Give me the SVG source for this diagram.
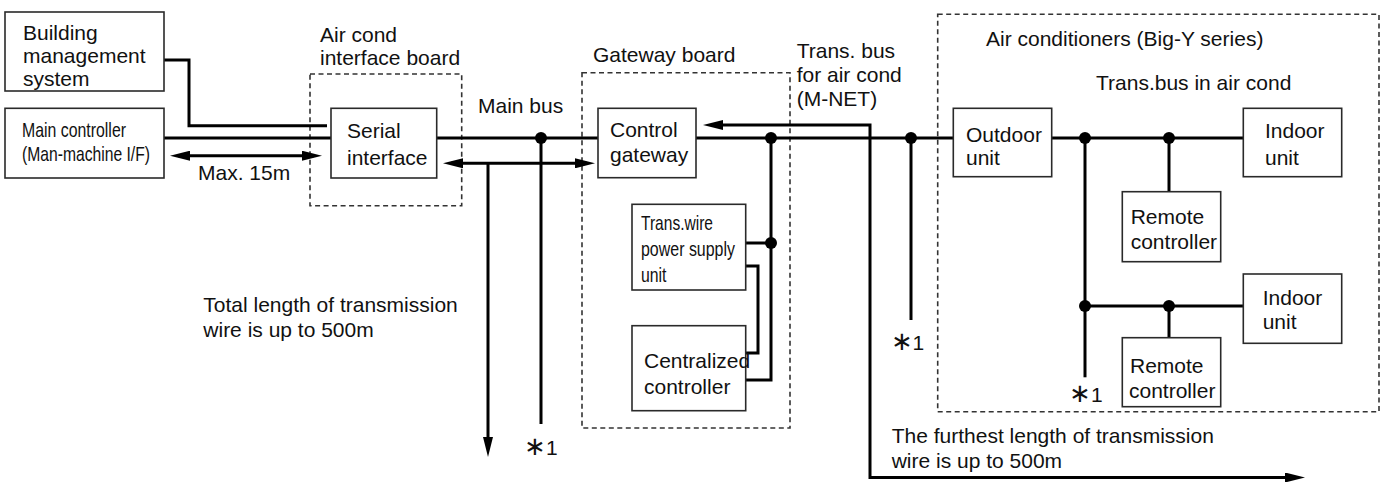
<svg xmlns="http://www.w3.org/2000/svg" width="1388" height="482" viewBox="0 0 1388 482">
<style>
text{font-family:"Liberation Sans",Arial,sans-serif;fill:#111;font-size:21px}
.box{fill:#fff;stroke:#2a2a2a;stroke-width:1.6}
.dash{fill:none;stroke:#333;stroke-width:1.6;stroke-dasharray:5 3.5}
.w{fill:none;stroke:#000;stroke-width:3}
.dot{fill:#000}
.ast{font-size:26px}
</style>
<defs>
<marker id="ah" viewBox="0 0 20 10" refX="12" refY="5" markerWidth="20" markerHeight="10" markerUnits="userSpaceOnUse" orient="auto-start-reverse">
<path d="M0,0 L20,5 L0,10 z" fill="#000"/>
</marker>
</defs>
<rect width="1388" height="482" fill="#fff"/>

<g id="group-aircond-if">
<rect class="dash" x="310" y="74" width="151.7" height="131.7"/>
<text x="320" y="42">Air cond</text>
<text x="320" y="65">interface board</text>
</g>
<g id="group-gateway">
<rect class="dash" x="582" y="72.7" width="208" height="355.3"/>
<text x="593" y="62">Gateway board</text>
</g>
<g id="group-aircon">
<rect class="dash" x="937.7" y="14.3" width="441.3" height="397.4"/>
<text x="986" y="46">Air conditioners (Big-Y series)</text>
<text x="1096" y="89.5">Trans.bus in air cond</text>
</g>

<g id="connectors">
<path class="w" d="M164,60 H189 V125.7 H327"/>
<path class="w" d="M164,138 H331"/>
<path class="w" d="M178,155.7 H314" marker-start="url(#ah)" marker-end="url(#ah)"/>
<path class="w" d="M436.7,138 H598"/>
<path class="w" d="M541,138 V424"/>
<path class="w" d="M451,163.3 H587" marker-start="url(#ah)" marker-end="url(#ah)"/>
<path class="w" d="M488,163.3 V449" marker-end="url(#ah)"/>
<path class="w" d="M696,138 H953.3"/>
<path class="w" d="M771,138 V380 H746"/>
<path class="w" d="M746,243 H771"/>
<path class="w" d="M746,266 H758 V353 H746"/>
<path class="w" d="M911,138 V320"/>
<path class="w" d="M711,125 H870 V477.5 H1297" marker-start="url(#ah)" marker-end="url(#ah)"/>
<path class="w" d="M1051.7,138 H1243.3"/>
<path class="w" d="M1085,138 V377.3"/>
<path class="w" d="M1169,138 V191.7"/>
<path class="w" d="M1085,306 H1243.3"/>
<path class="w" d="M1169,306 V337.7"/>
<circle class="dot" cx="541" cy="138" r="6"/>
<circle class="dot" cx="771" cy="138" r="6"/>
<circle class="dot" cx="771" cy="243" r="6"/>
<circle class="dot" cx="911" cy="138" r="6"/>
<circle class="dot" cx="1085" cy="138" r="6"/>
<circle class="dot" cx="1169" cy="138" r="6"/>
<circle class="dot" cx="1085" cy="306" r="6"/>
<circle class="dot" cx="1169" cy="306" r="6"/>
</g>

<g id="bms">
<rect class="box" x="5" y="12" width="159" height="79"/>
<text x="23" y="39.5">Building</text>
<text x="23" y="63">management</text>
<text x="23" y="86">system</text>
</g>
<g id="main-controller">
<rect class="box" x="5" y="108.3" width="159" height="69.7"/>
<text x="22" y="137" font-size="18.5" textLength="104" lengthAdjust="spacingAndGlyphs">Main controller</text>
<text x="22" y="161" font-size="18.5" textLength="128" lengthAdjust="spacingAndGlyphs">(Man-machine I/F)</text>
</g>
<g id="serial-interface">
<rect class="box" x="331" y="108.3" width="105.7" height="69.7"/>
<text x="347" y="138.3">Serial</text>
<text x="347" y="165">interface</text>
</g>
<g id="control-gateway">
<rect class="box" x="598" y="108.3" width="98" height="69.4"/>
<text x="610" y="137">Control</text>
<text x="610" y="162">gateway</text>
</g>
<g id="trans-wire-psu">
<rect class="box" x="632" y="204.3" width="113.7" height="85.7"/>
<text x="641" y="230" font-size="17" textLength="72" lengthAdjust="spacingAndGlyphs">Trans.wire</text>
<text x="641" y="255.5" font-size="17" textLength="94" lengthAdjust="spacingAndGlyphs">power supply</text>
<text x="641" y="281.5" font-size="17" textLength="25.5" lengthAdjust="spacingAndGlyphs">unit</text>
</g>
<g id="centralized-controller">
<rect class="box" x="632" y="325.7" width="113.7" height="85"/>
<text x="644" y="368" font-size="19">Centralized</text>
<text x="644" y="394" font-size="19">controller</text>
</g>
<g id="outdoor-unit">
<rect class="box" x="953.3" y="108.3" width="98.4" height="68.4"/>
<text x="966" y="141.7" font-size="19.5">Outdoor</text>
<text x="966" y="165" font-size="19.5">unit</text>
</g>
<g id="indoor-unit-1">
<rect class="box" x="1243.3" y="108.3" width="98.4" height="68.4"/>
<text x="1265" y="138.3" font-size="20.5">Indoor</text>
<text x="1265" y="165" font-size="20.5">unit</text>
</g>
<g id="remote-controller-1">
<rect class="box" x="1122.3" y="191.7" width="98.4" height="70"/>
<text x="1130.7" y="224" font-size="19">Remote</text>
<text x="1130.7" y="249.3" font-size="19">controller</text>
</g>
<g id="indoor-unit-2">
<rect class="box" x="1243.3" y="274" width="98.4" height="69.3"/>
<text x="1262.7" y="305" font-size="20.5">Indoor</text>
<text x="1262.7" y="329.3" font-size="20.5">unit</text>
</g>
<g id="remote-controller-2">
<rect class="box" x="1122.3" y="337.7" width="98.4" height="69"/>
<text x="1130" y="373.3">Remote</text>
<text x="1129" y="398.3">controller</text>
</g>

<g id="labels">
<text x="198" y="180">Max. 15m</text>
<text x="478" y="112.7">Main bus</text>
<text x="796.7" y="58.3" font-size="18.5">Trans. bus</text>
<text x="796.7" y="81.7" font-size="18.5">for air cond</text>
<text x="796.7" y="106" font-size="18.5">(M-NET)</text>
<text x="203.3" y="311.7">Total length of transmission</text>
<text x="203.3" y="336.7">wire is up to 500m</text>
<text x="891.7" y="442.7">The furthest length of transmission</text>
<text x="891.7" y="468.3">wire is up to 500m</text>
<text x="524" y="455"><tspan class="ast">∗</tspan>1</text>
<text x="890.5" y="350"><tspan class="ast">∗</tspan>1</text>
<text x="1069" y="401.7"><tspan class="ast">∗</tspan>1</text>
</g>
</svg>
